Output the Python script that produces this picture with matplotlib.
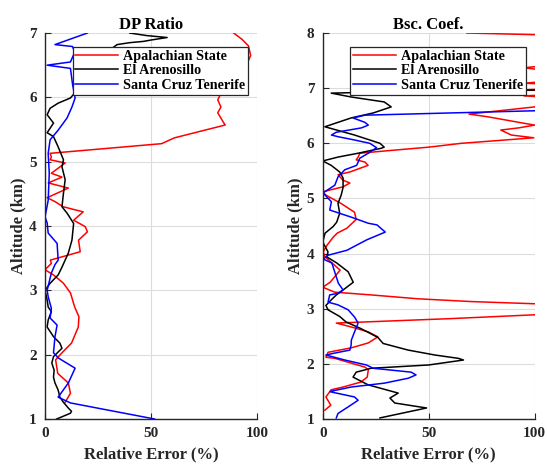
import matplotlib
matplotlib.use("Agg")
import matplotlib.pyplot as plt

plt.rcParams['font.family'] = ['Liberation Serif', 'DejaVu Serif']
plt.rcParams['font.weight'] = 'bold'

sites = ["Apalachian State", "El Arenosillo", "Santa Cruz Tenerife"]
colors = ["#ff0000", "#000000", "#0000ff"]

# DP Ratio panel: (relative error %, altitude km)
dp_apal_err = [9.5, 12, 11, 6, 5, 8, 12.5, 15.7, 16, 14, 12, 8.7, 4, 0, 3, 2.5, 16.6, 15.8,
               20, 19, 13.5, 18, 8.5, 4.7, 1, 11, 1.5, 8, 3, 9.5, 2.4, 3, 2.4, 55, 61, 85,
               84, 81.5, 83, 81.5, 85, 95, 97, 96, 93, 89]
dp_apal_alt = [1.26, 1.4, 1.56, 1.71, 1.92, 2.03, 2.18, 2.43, 2.59, 2.74, 2.96, 3.11, 3.24,
               3.32, 3.42, 3.47, 3.6, 3.78, 3.91, 3.99, 4.09, 4.22, 4.3, 4.38, 4.44, 4.59,
               4.67, 4.76, 4.82, 4.98, 5.03, 5.07, 5.13, 5.28, 5.37, 5.57, 5.62, 5.76, 5.85,
               5.96, 6.2, 6.5, 6.65, 6.8, 6.9, 7.0]
dp_aren_err = [5.5, 12, 12.5, 11, 8.7, 7, 6.2, 4.7, 4, 4.3, 3.2, 4, 8, 7, 4, 1, 1.5, 3, 1.5,
               1, 0, 2.4, 6.2, 8, 11, 12.7, 13.5, 10.4, 8, 8.7, 9.5, 8, 8.7, 6.2, 4, 1, 4,
               1, 2.4, 6.2, 12, 20, 25, 34, 40, 46.5, 49.8, 57.6, 48, 40]
dp_aren_alt = [1.0, 1.09, 1.12, 1.17, 1.26, 1.34, 1.45, 1.56, 1.65, 1.76, 1.87, 1.97, 2.1,
               2.18, 2.28, 2.43, 2.54, 2.67, 2.74, 2.85, 3.0, 3.11, 3.24, 3.36, 3.58, 3.78,
               4.04, 4.2, 4.3, 4.51, 4.72, 4.92, 5.03, 5.23, 5.39, 5.45, 5.6, 5.73, 5.83,
               5.91, 5.99, 6.3, 6.6, 6.82, 6.85, 6.87, 6.89, 6.93, 6.96, 7.0]
dp_stcz_err = [51.7, 12, 6.2, 11, 14.2, 6.2, 4, 4.7, 5.7, 2.4, 3, 1.5, 1, 3, 4.7, 6.2, 5.7,
               1.5, 1, 0, 1.5, 2, 1.5, 2.4, 6.2, 10.4, 12.7, 14.2, 13, 12, 1, 12, 14, 13,
               4.7, 20]
dp_stcz_alt = [1.0, 1.25, 1.34, 1.56, 1.79, 1.95, 2.03, 2.28, 2.46, 2.57, 2.72, 2.9, 3.0,
               3.27, 3.4, 3.47, 3.73, 3.89, 4.05, 4.14, 4.4, 4.82, 5.13, 5.34, 5.49, 5.68,
               5.85, 5.99, 6.2, 6.45, 6.5, 6.55, 6.7, 6.79, 6.82, 7.0]

# Bsc. Coef. panel
bsc_apal_err = [1, 3.8, 1.5, 4, 9.6, 18, 21, 21.5, 20, 5.7, 1.5, 2.5, 13.4, 21.5, 26, 21.5,
                13.4, 6.4, 60, 100, 160, 100, 70, 45, 23, 5.7, 0, 3.5, 8.2, 1.1, 0.2, 2, 5,
                6.8, 11.4, 15.8, 15, 8.6, 1.5, 0, 9.5, 12.8, 9.6, 7.2, 12.8, 21.4, 19.9,
                15.8, 16.7, 17.5, 29, 50, 65.5, 86, 99.6, 89, 84, 92.5, 100, 92.5, 78, 69,
                100, 130, 95, 130, 96, 130, 95, 130, 95, 130, 130, 100, 68]
bsc_apal_alt = [1.16, 1.25, 1.4, 1.53, 1.58, 1.67, 1.76, 1.89, 1.94, 2.1, 2.12, 2.21, 2.29,
                2.38, 2.49, 2.58, 2.67, 2.74, 2.82, 2.89, 2.99, 3.09, 3.13, 3.18, 3.25, 3.3,
                3.39, 3.48, 3.7, 3.94, 4.03, 4.15, 4.3, 4.37, 4.46, 4.62, 4.75, 4.91, 5.06,
                5.12, 5.21, 5.28, 5.33, 5.43, 5.48, 5.6, 5.66, 5.7, 5.75, 5.82, 5.86, 5.93,
                6.0, 6.06, 6.1, 6.15, 6.24, 6.28, 6.33, 6.38, 6.48, 6.53, 6.66, 6.78, 6.86,
                6.92, 6.97, 7.03, 7.09, 7.2, 7.37, 7.5, 7.9, 7.97, 8.0]
bsc_aren_err = [27, 49, 34, 31.7, 35.6, 21.4, 14.3, 15.8, 22.8, 50, 66.4, 64, 53, 40.3, 28.5,
                26, 18, 11, 8, 2.5, 1.5, 4, 6.4, 9.6, 14.4, 12, 6.6, 1.9, 2.5, 0, 1.1, 4.9,
                6.6, 8, 7.2, 8.7, 9.6, 9.6, 8, 4, 0, 7.2, 16.7, 27.6, 29, 27, 15, 1, 13.4,
                23.8, 32.3, 29, 13.4, 4, 40, 110, 130]
bsc_aren_alt = [1.02, 1.2, 1.29, 1.38, 1.47, 1.62, 1.76, 1.85, 1.92, 1.98, 2.07, 2.1, 2.16,
                2.25, 2.37, 2.48, 2.64, 2.76, 2.86, 2.98, 3.06, 3.16, 3.25, 3.34, 3.48, 3.67,
                3.83, 3.94, 4.03, 4.21, 4.37, 4.49, 4.57, 4.73, 4.91, 5.06, 5.2, 5.37, 5.48,
                5.6, 5.68, 5.75, 5.82, 5.91, 5.93, 6.0, 6.15, 6.3, 6.46, 6.55, 6.66, 6.75,
                6.84, 6.91, 6.94, 6.97, 7.2]
bsc_stcz_err = [6.4, 7.2, 12, 16.7, 15, 4, 3.5, 13.4, 29, 40.4, 44, 41.7, 23.8, 20.6, 10.4,
                1.5, 4.9, 12.8, 13.4, 13.5, 15, 16.7, 15, 12, 7.2, 2.5, 3.3, 7.2, 9.6, 7.4,
                5.8, 4.3, 0.2, 2.5, 11.4, 20.8, 29.5, 25.6, 21.5, 13.5, 3.3, 4.1, 0.1, 5.7,
                7.2, 10.4, 16, 17.5, 21.5, 25.4, 22.2, 15, 7.2, 4.1, 6.4, 18.3, 21.5, 19.9,
                14.3, 19.9, 100, 130]
bsc_stcz_alt = [1.02, 1.1, 1.22, 1.34, 1.4, 1.49, 1.5, 1.58, 1.65, 1.74, 1.8, 1.85, 1.92,
                1.98, 2.07, 2.16, 2.19, 2.25, 2.34, 2.43, 2.58, 2.74, 2.85, 2.98, 3.07, 3.12,
                3.25, 3.28, 3.34, 3.46, 3.65, 3.83, 3.9, 3.97, 4.06, 4.25, 4.39, 4.52, 4.55,
                4.66, 4.79, 4.94, 5.1, 5.24, 5.39, 5.52, 5.6, 5.73, 5.82, 5.92, 6.0, 6.06,
                6.12, 6.15, 6.2, 6.28, 6.33, 6.38, 6.46, 6.51, 6.59, 6.7]

panels = [
    ("DP Ratio", 7, [(dp_apal_err, dp_apal_alt), (dp_aren_err, dp_aren_alt),
                     (dp_stcz_err, dp_stcz_alt)]),
    ("Bsc. Coef.", 8, [(bsc_apal_err, bsc_apal_alt), (bsc_aren_err, bsc_aren_alt),
                       (bsc_stcz_err, bsc_stcz_alt)]),
]

fig = plt.figure(figsize=(5.47, 4.65), dpi=100)
lefts = [0.0823, 0.590]

for left, (title, top, series) in zip(lefts, panels):
    ax = fig.add_axes([left, 0.0989, 0.3875, 0.8301])
    for (err, alt), name, c in zip(series, sites, colors):
        ax.plot(err, alt, color=c, lw=1.1, label=name)
    ax.set_xlim(0, 100)
    ax.set_ylim(1, top)
    ax.set_xticks([0, 50, 100])
    ax.set_yticks(range(1, top + 1))
    ax.grid(True, color="#dcdcdc", lw=0.8)
    ax.set_axisbelow(True)
    for s in ["top", "right"]:
        ax.spines[s].set_visible(False)
    for s in ["left", "bottom"]:
        ax.spines[s].set_color("#262626")
        ax.spines[s].set_linewidth(1.0)
    ax.tick_params(direction="in", length=4, width=0.8, colors="#262626",
                   labelsize=11, pad=6)
    for lab in ax.get_xticklabels() + ax.get_yticklabels():
        lab.set_fontweight("bold")
    ax.set_title(title, fontsize=12, fontweight="bold", pad=3)
    ax.set_xlabel("Relative Error (%)", fontsize=12, fontweight="bold", color="#262626")
    ax.set_ylabel("Altitude (km)", fontsize=12, fontweight="bold", color="#262626",
                  labelpad=2)
    leg = ax.legend(loc="upper right", bbox_to_anchor=(0.957, 0.964), fontsize=10.2,
                    fancybox=False, framealpha=1, edgecolor="#262626", borderpad=0.2,
                    handlelength=3.0, handletextpad=0.35, labelspacing=0.12,
                    borderaxespad=0)
    leg.get_frame().set_linewidth(0.9)
    for t in leg.get_texts():
        t.set_fontweight("bold")

fig.savefig("out.png", dpi=100)
